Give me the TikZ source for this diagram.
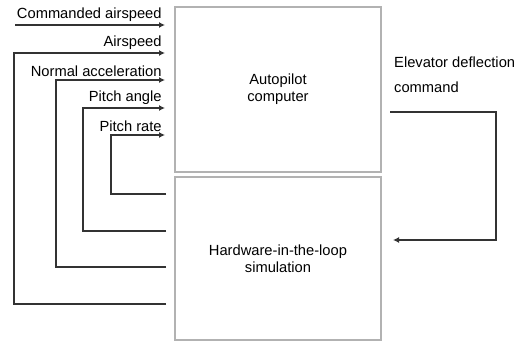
\documentclass[tikz,border=0pt]{standalone}
\usepackage{fontspec}
\setmainfont{Liberation Sans}
\usepackage{tikz}
\usetikzlibrary{arrows.meta,positioning,calc}
\tikzset{
hlbox/.style={rectangle,draw=black!30,line width=1.1pt,align=center,inner sep=2pt},
hlline/.style={draw=black!80,line width=1.8pt},
hlarr/.style={hlline,-{Latex[length=6pt,width=6pt]}},
hllabel/.style={inner sep=2.5pt,font=\fontsize{14.7}{17}\selectfont},
hlnote/.style={align=left,inner sep=0pt,font=\fontsize{14.7}{25}\selectfont}
}
\begin{document}
\begin{tikzpicture}[
x=1pt,
y=-1pt,
every node/.style={font=\fontsize{14.7}{17}\selectfont}
]
\useasboundingbox (0,0) rectangle (523,341);
\node[hlbox,minimum width=206pt,minimum height=165pt]
  (ap) at (278,89.5) {Autopilot\\computer};
\node[hlbox,minimum width=206pt,minimum height=163pt]
  (hil) at (278,258.5) {Hardware-in-the-loop\\simulation};
% inputs to the autopilot
\coordinate (cmdin) at (165,25);
\coordinate (cmdsrc) at (15,25);
\coordinate (spdin) at (165,53);
\coordinate (accin) at (165,80);
\coordinate (angin) at (165,108);
\coordinate (ratein) at (165,135);
% outputs of the simulation
\coordinate (spdout) at (166,304);
\coordinate (accout) at (166,267);
\coordinate (angout) at (166,231);
\coordinate (rateout) at (166,194);
% elevator loop
\coordinate (elevout) at (390,112);
\coordinate (elevin) at (393,240);
\draw[hlarr] (cmdsrc)--node[hllabel,pos=1,above left](lbcmd){Commanded airspeed}(cmdin);
\draw[hlarr] (spdout) -- ++(-152,0) |- node[hllabel,pos=1,above left](lbspd){Airspeed} (spdin);
\draw[hlarr] (accout) -- ++(-110,0) |- node[hllabel,pos=1,above left](lbacc){Normal acceleration} (accin);
\draw[hlarr] (angout) -- ++(-83,0) |- node[hllabel,pos=1,above left](lbang){Pitch angle} (angin);
\draw[hlarr] (rateout) -- ++(-55,0) |- node[hllabel,pos=1,above left](lbrate){Pitch rate} (ratein);
\draw[hlarr] (elevout) -- ++(106,0) |- (elevin);
\node[hlnote,anchor=north west] (elevlabel) at (394,57) {Elevator deflection\\command};
\end{tikzpicture}
\end{document}
